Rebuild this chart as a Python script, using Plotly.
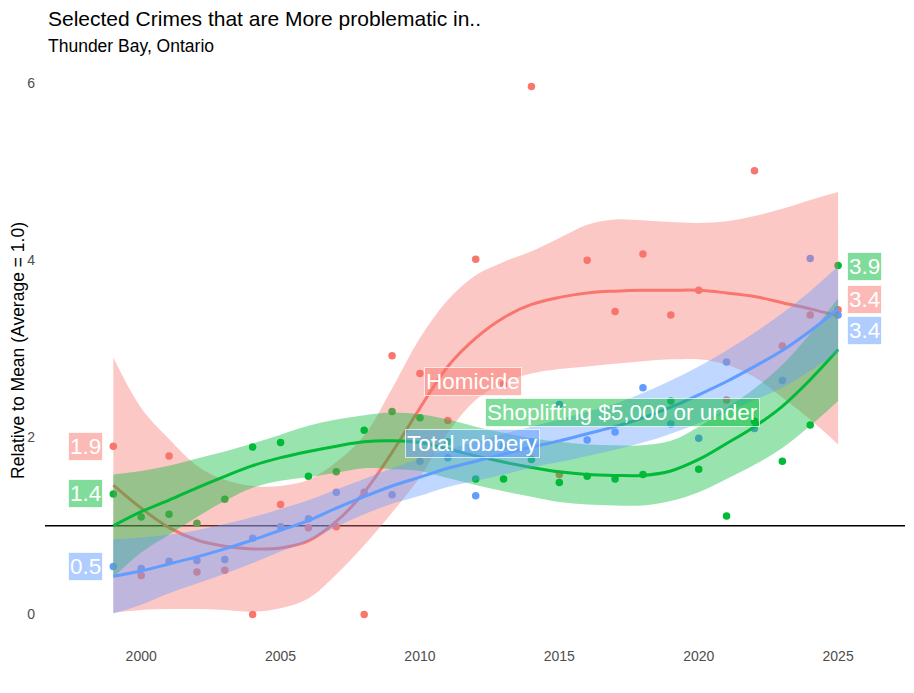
import plotly.graph_objects as go

# yearly values relative to the mean (1.0 = average)
years = list(range(1999, 2026))

homicide = [1.90, 0.44, 1.79, 0.48, 0.50, 0.00, 1.24, 0.98, 0.99, 0.00, 2.92, 2.72, 2.19, 4.01,
            2.60, 5.96, 1.58, 4.00, 3.42, 4.07, 3.38, 3.66, 2.42, 5.01, 3.03, 3.38, 3.44]
shoplifting = [1.36, 1.10, 1.13, 1.03, 1.30, 1.89, 1.94, 1.56, 1.61, 2.08, 2.29, 2.22, 1.95, 1.53,
               1.53, 1.75, 1.49, 1.56, 1.53, 1.58, 2.41, 1.64, 1.11, 2.18, 1.73, 2.14, 3.94]
robbery = [0.54, 0.52, 0.60, 0.61, 0.62, 0.86, 0.99, 1.08, 1.38, 1.38, 1.35, 1.73, 1.77, 1.34,
           1.90, 1.95, 2.37, 1.97, 2.06, 2.56, 2.15, 1.99, 2.85, 2.10, 2.64, 4.02, 3.38]

# loess fit and its band
homicide_fit = [1.46, 1.20, 0.98, 0.84, 0.77, 0.74, 0.75, 0.83, 1.05, 1.38, 1.83, 2.33, 2.80, 3.12,
                3.35, 3.50, 3.58, 3.63, 3.65, 3.66, 3.66, 3.66, 3.63, 3.59, 3.52, 3.45, 3.37]
homicide_lo = [0.02, 0.05, 0.06, 0.06, 0.05, 0.03, 0.07, 0.18, 0.45, 0.78, 1.15, 1.55, 2.05, 2.42,
               2.62, 2.72, 2.77, 2.80, 2.83, 2.86, 2.88, 2.88, 2.82, 2.68, 2.45, 2.20, 1.92]
homicide_hi = [2.90, 2.33, 1.98, 1.68, 1.52, 1.45, 1.45, 1.52, 1.72, 2.02, 2.55, 3.12, 3.55, 3.83,
               3.98, 4.10, 4.25, 4.40, 4.46, 4.45, 4.43, 4.42, 4.44, 4.50, 4.58, 4.68, 4.77]

shoplifting_fit = [1.00, 1.16, 1.29, 1.43, 1.56, 1.68, 1.77, 1.84, 1.90, 1.95, 1.96, 1.94, 1.87, 1.79,
                   1.72, 1.66, 1.61, 1.58, 1.57, 1.57, 1.62, 1.75, 1.93, 2.12, 2.35, 2.65, 2.99]
shoplifting_lo = [0.42, 0.70, 0.90, 1.10, 1.28, 1.43, 1.51, 1.55, 1.60, 1.65, 1.64, 1.62, 1.54, 1.46,
                  1.39, 1.33, 1.27, 1.24, 1.23, 1.23, 1.28, 1.38, 1.53, 1.69, 1.88, 2.13, 2.41]
shoplifting_hi = [1.58, 1.62, 1.68, 1.76, 1.84, 1.93, 2.03, 2.13, 2.20, 2.25, 2.28, 2.26, 2.20, 2.12,
                  2.05, 1.99, 1.95, 1.92, 1.91, 1.91, 1.96, 2.12, 2.33, 2.55, 2.82, 3.17, 3.57]

robbery_fit = [0.43, 0.49, 0.57, 0.65, 0.74, 0.84, 0.95, 1.06, 1.20, 1.33, 1.45, 1.55, 1.65, 1.73,
               1.81, 1.89, 1.96, 2.04, 2.12, 2.22, 2.34, 2.48, 2.63, 2.80, 2.98, 3.20, 3.45]
robbery_lo = [0.01, 0.11, 0.24, 0.35, 0.46, 0.58, 0.71, 0.83, 0.99, 1.13, 1.25, 1.34, 1.44, 1.51,
              1.58, 1.66, 1.72, 1.79, 1.86, 1.94, 2.04, 2.16, 2.28, 2.42, 2.56, 2.75, 2.97]
robbery_hi = [0.85, 0.87, 0.90, 0.95, 1.02, 1.10, 1.19, 1.29, 1.41, 1.53, 1.65, 1.76, 1.86, 1.95,
              2.04, 2.12, 2.20, 2.29, 2.38, 2.50, 2.64, 2.80, 2.98, 3.18, 3.40, 3.65, 3.93]

names = ["Homicide", "Shoplifting $5,000 or under", "Total robbery"]
colors = ["#F8766D", "#00BA38", "#619CFF"]
rgb = [(248, 118, 109), (0, 186, 56), (97, 156, 255)]

series = [
    (homicide, homicide_fit, homicide_lo, homicide_hi),
    (shoplifting, shoplifting_fit, shoplifting_lo, shoplifting_hi),
    (robbery, robbery_fit, robbery_lo, robbery_hi),
]

# where the repelled labels ended up
name_label_pos = [(2011.92, 2.625), (2017.25, 2.278), (2011.88, 1.935)]
end_label_y = [3.56, 3.93, 3.21]
start_label_x = 1998.0
end_label_x = 2025.96

FONT = "Liberation Sans, Arial, sans-serif"

fig = go.Figure()

for (vals, fit, lo, hi), c in zip(series, colors):
    fig.add_trace(go.Scatter(x=years, y=vals, mode="markers",
                             marker=dict(color=c, size=7.5), hoverinfo="skip", showlegend=False))

for (vals, fit, lo, hi), c, (r, g, b) in zip(series, colors, rgb):
    fig.add_trace(go.Scatter(x=years, y=lo, mode="lines", line=dict(width=0, shape="spline"),
                             hoverinfo="skip", showlegend=False))
    fig.add_trace(go.Scatter(x=years, y=hi, mode="lines", line=dict(width=0, shape="spline"),
                             fill="tonexty", fillcolor=f"rgba({r},{g},{b},0.4)",
                             hoverinfo="skip", showlegend=False))
    fig.add_trace(go.Scatter(x=years, y=fit, mode="lines", line=dict(color=c, width=3, shape="spline"),
                             hoverinfo="skip", showlegend=False))

annotations = []


def box_label(text, x, y, r, g, b):
    return dict(x=x, y=y, xref="x", yref="y", text=text, showarrow=False,
                font=dict(family=FONT, size=22.5, color="white"),
                bgcolor=f"rgba({r},{g},{b},0.5)", bordercolor="rgba(255,255,255,0.7)",
                borderwidth=1, borderpad=1, xanchor="center", yanchor="middle")


for (vals, fit, lo, hi), (r, g, b), name, (nx, ny), ey in zip(series, rgb, names, name_label_pos, end_label_y):
    annotations.append(box_label(f"{vals[0]:.1f}", start_label_x, vals[0], r, g, b))
    annotations.append(box_label(f"{vals[-1]:.1f}", end_label_x, ey, r, g, b))
    annotations.append(box_label(name, nx, ny, r, g, b))

annotations.append(dict(x=0, y=1.071, xref="paper", yref="paper", xanchor="left", yanchor="middle",
                        xshift=1, showarrow=False, text="Selected Crimes that are More problematic in..",
                        font=dict(family=FONT, size=21, color="black")))
annotations.append(dict(x=0, y=1.0245, xref="paper", yref="paper", xanchor="left", yanchor="middle",
                        xshift=1, showarrow=False, text="Thunder Bay, Ontario",
                        font=dict(family=FONT, size=17.5, color="black")))

fig.update_layout(
    width=914, height=693,
    margin=dict(l=37, r=17, t=52, b=60),
    paper_bgcolor="white", plot_bgcolor="white",
    showlegend=False,
    annotations=annotations,
    shapes=[dict(type="line", xref="paper", yref="y", x0=0, x1=1, y0=1, y1=1,
                 line=dict(color="black", width=1.5), layer="below")],
    xaxis=dict(range=[1996.55, 2027.4], tickvals=[2000, 2005, 2010, 2015, 2020, 2025],
               showgrid=False, zeroline=False, showline=False, ticks="", ticklabelstandoff=5,
               automargin=False, tickfont=dict(family=FONT, size=14, color="#4D4D4D")),
    yaxis=dict(range=[-0.3, 6.26], tickvals=[0, 2, 4, 6], showgrid=False, zeroline=False,
               showline=False, ticks="", ticklabelstandoff=9, automargin=False,
               tickfont=dict(family=FONT, size=14, color="#4D4D4D"),
               title=dict(text="Relative to Mean (Average = 1.0)", standoff=3,
                          font=dict(family=FONT, size=17.5, color="black"))),
)

fig.write_html("out.html")
